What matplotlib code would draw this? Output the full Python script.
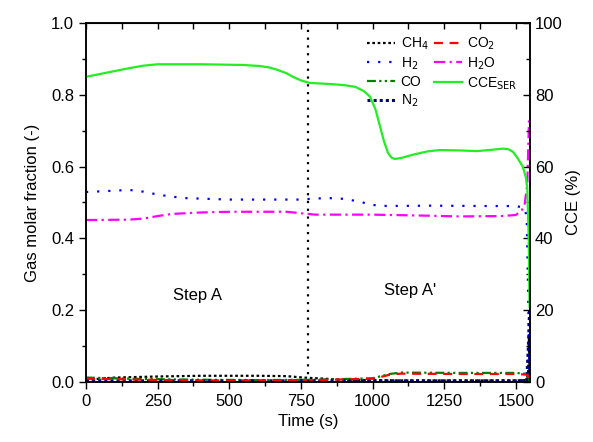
import numpy as np
import matplotlib.pyplot as plt
from matplotlib.ticker import MultipleLocator

plt.rcParams['font.family'] = ['Liberation Sans', 'DejaVu Sans']

# 데이터
t_ch4 = [0, 100, 250, 400, 600, 700, 760, 900, 1000, 1100, 1300, 1500, 1535, 1543, 1546, 1548]
ch4 = [0.006, 0.012, 0.015, 0.017, 0.017, 0.016, 0.012, 0.006, 0.005, 0.004, 0.004, 0.004, 0.005, 0.02, 0.13, 0.0]

t_h2 = [0, 80, 150, 200, 250, 300, 350, 500, 750, 800, 850, 900, 950, 980, 1000, 1050, 1200, 1400, 1500, 1530, 1538, 1544, 1548]
h2 = [0.529, 0.532, 0.535, 0.530, 0.522, 0.516, 0.512, 0.508, 0.508, 0.511, 0.512, 0.510, 0.503, 0.497, 0.493, 0.49, 0.491, 0.49, 0.49, 0.485, 0.46, 0.2, 0.0]

t_co = [0, 200, 400, 600, 800, 1000, 1030, 1060, 1100, 1300, 1500, 1540, 1548]
co = [0.012, 0.008, 0.006, 0.005, 0.006, 0.01, 0.016, 0.022, 0.026, 0.025, 0.025, 0.022, 0.0]

t_n2 = [0, 500, 1000, 1500, 1538, 1544, 1548]
n2 = [0.003, 0.003, 0.003, 0.003, 0.004, 0.1, 0.2]

t_co2 = [0, 200, 400, 600, 800, 1000, 1030, 1060, 1100, 1300, 1500, 1540, 1548]
co2 = [0.009, 0.006, 0.004, 0.004, 0.005, 0.009, 0.014, 0.02, 0.023, 0.022, 0.022, 0.02, 0.0]

t_h2o = [0, 150, 200, 250, 300, 400, 500, 700, 750, 800, 1000, 1200, 1300, 1450, 1500, 1520, 1530, 1540, 1546]
h2o = [0.451, 0.452, 0.455, 0.462, 0.468, 0.472, 0.474, 0.474, 0.470, 0.466, 0.466, 0.463, 0.461, 0.462, 0.465, 0.478, 0.49, 0.55, 0.73]

t_cce = [0, 50, 100, 150, 200, 250, 400, 550, 607, 640, 666, 700, 722, 750, 781, 850, 900, 940, 970, 991,
         1010, 1025, 1040, 1054, 1066, 1078, 1100, 1141, 1190, 1235, 1300, 1364, 1420, 1455, 1475, 1490,
         1505, 1524, 1535, 1540, 1545, 1548]
cce = [85.0, 85.8, 86.6, 87.4, 88.1, 88.5, 88.5, 88.3, 88.0, 87.6, 87.0, 86.0, 85.0, 84.0, 83.3, 83.0, 82.7, 82.2, 81.0, 79.5,
       76.0, 71.5, 67.0, 63.8, 62.5, 62.1, 62.4, 63.3, 64.2, 64.6, 64.5, 64.3, 64.7, 65.0, 64.8, 64.1,
       62.5, 60.0, 57.0, 54.0, 40.0, 21.0]

t_switch = 775

fig = plt.figure(figsize=(5.93, 4.42), dpi=100)
ax = fig.add_axes([0.145, 0.136, 0.749, 0.812])
ax2 = ax.twinx()

lw = 1.6
l1, = ax.plot(t_ch4, ch4, color='black', lw=lw, ls=(0, (1.2, 1.2)), label='CH$_4$')
l2, = ax.plot(t_h2, h2, color='blue', lw=lw, ls=(0, (1, 4)), label='H$_2$')
l3, = ax.plot(t_co, co, color='green', lw=lw, ls=(0, (4, 1.5, 1, 1.5, 1, 1.5)), label='CO')
l4, = ax.plot(t_n2, n2, color='navy', lw=2.2, ls=(0, (1, 1)), label='N$_2$')
l5, = ax.plot(t_co2, co2, color='red', lw=lw, ls=(0, (4, 3)), label='CO$_2$')
l6, = ax.plot(t_h2o, h2o, color='magenta', lw=lw, ls=(0, (5, 2, 1, 2)), label='H$_2$O')
l7, = ax2.plot(t_cce, cce, color='#22ee22', lw=1.6, label='CCE$_{\\rm SER}$')

ax.axvline(t_switch, color='black', lw=1.6, ls=(0, (1, 2.5)))

ax.text(388, 0.24, 'Step A', fontsize=12, ha='center', va='center')
ax.text(1130, 0.255, "Step A'", fontsize=12, ha='center', va='center')

ax.set_xlim(0, 1550)
ax.set_ylim(0, 1.0)
ax2.set_ylim(0, 100)

ax.set_xlabel('Time (s)', fontsize=12)
ax.set_ylabel('Gas molar fraction (-)', fontsize=12, labelpad=8)
ax2.set_ylabel('CCE (%)', fontsize=12, labelpad=2)

ax.xaxis.set_major_locator(MultipleLocator(250))
ax.xaxis.set_minor_locator(MultipleLocator(125))
ax.yaxis.set_major_locator(MultipleLocator(0.2))
ax.yaxis.set_minor_locator(MultipleLocator(0.1))
ax2.yaxis.set_major_locator(MultipleLocator(20))
ax2.yaxis.set_minor_locator(MultipleLocator(10))
ax.yaxis.set_major_formatter(plt.FormatStrFormatter('%.1f'))

ax.tick_params(which='major', direction='out', length=5, width=1, labelsize=12)
ax.tick_params(which='minor', direction='out', length=3, width=1)
ax2.tick_params(which='major', direction='in', length=5, width=1, labelsize=12)
ax2.tick_params(which='minor', direction='in', length=3, width=1)

top = ax.secondary_xaxis('top')
top.xaxis.set_major_locator(MultipleLocator(250))
top.xaxis.set_minor_locator(MultipleLocator(125))
top.tick_params(which='both', direction='in', length=4, width=1, labeltop=False)

for a in (ax, ax2):
    for s in a.spines.values():
        s.set_linewidth(1.1)

handles = [l1, l2, l3, l4, l5, l6, l7]
ax.legend(handles, [h.get_label() for h in handles], ncol=2, frameon=False,
          fontsize=10, loc='upper right', bbox_to_anchor=(1.0, 1.0),
          handlelength=2.0, handletextpad=0.4, columnspacing=0.4, labelspacing=0.25)

fig.savefig('out.png', dpi=100)
